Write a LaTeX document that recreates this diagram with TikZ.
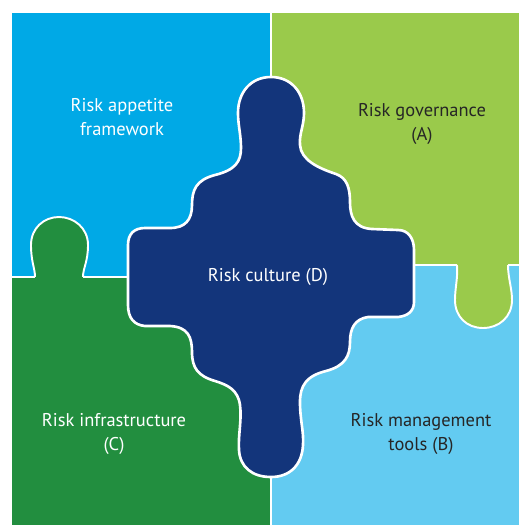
\documentclass[tikz,border=0pt]{standalone}
\usepackage{fontspec}
\setmainfont{PT Sans}
\definecolor{appetite}{HTML}{00A9E6}
\definecolor{governance}{HTML}{9ACA4B}
\definecolor{infra}{HTML}{228E3F}
\definecolor{tools}{HTML}{63CBF1}
\definecolor{culture}{HTML}{13357B}
\definecolor{ink}{HTML}{262626}
\tikzset{
	piece/.style={draw=white, line width=1.5pt},
	tab/.style={draw=white, line width=1.1pt},
	divider/.style={draw=white, line width=1.1pt},
	label/.style={align=center, inner sep=0pt, font=\fontsize{10.5}{13.6}\selectfont},
}
\begin{document}
\begin{tikzpicture}[x=0.02cm, y=-0.02cm]
	\useasboundingbox (0,0) rectangle (519,525);
	% quadrants
	\fill[appetite] (12,13) rectangle (271,277);
	\fill[governance] (271,13) rectangle (519,265);
	\fill[infra] (12,277) rectangle (271,525);
	\fill[tools] (271,265) rectangle (519,525);
	% dividers
	\draw[divider] (271,13) -- (271,525);
	\draw[divider] (12,277) -- (35,277);
	\draw[divider] (83,277) -- (130,277);
	\draw[divider] (412,265) -- (457,265);
	\draw[divider] (508,265) -- (519,265);
	% tabs
	\path[tab, fill=infra] (35,277) .. controls (35,268) and (31,262) .. (31,245)
		.. controls (31,228) and (44,217) .. (59,217)
		.. controls (74,217) and (88,228) .. (88,245)
		.. controls (88,262) and (83,268) .. (83,277);
	\path[tab, fill=governance] (457,265) .. controls (458,278) and (455,288) .. (455,300)
		.. controls (455,317) and (467,328) .. (483,328)
		.. controls (499,328) and (512,317) .. (512,300)
		.. controls (512,288) and (508,278) .. (508,265);
	% centre piece
	\path[piece, fill=culture] (271,77) .. controls (291,77) and (304,92) .. (304,113)
		.. controls (304,126) and (299,134) .. (300,145)
		.. controls (301,160) and (318,168) .. (336,174)
		.. controls (347,178) and (350,188) .. (350,202)
		.. controls (350,216) and (354,228) .. (372,229)
		-- (398,230)
		.. controls (408,230) and (414,238) .. (414,250)
		-- (414,302)
		.. controls (414,311) and (408,316) .. (398,317)
		-- (368,317)
		.. controls (355,319) and (350,328) .. (350,342)
		.. controls (350,356) and (345,366) .. (326,371)
		.. controls (306,376) and (300,386) .. (300,402)
		.. controls (300,420) and (304,432) .. (303,445)
		.. controls (302,465) and (290,477) .. (271,477)
		.. controls (252,477) and (240,467) .. (239,450)
		.. controls (238,435) and (242,420) .. (240,405)
		.. controls (238,390) and (228,385) .. (215,381)
		.. controls (198,376) and (192,368) .. (192,352)
		.. controls (192,337) and (188,327) .. (170,326)
		-- (145,326)
		.. controls (134,325) and (128,318) .. (128,305)
		-- (128,245)
		.. controls (128,234) and (134,228) .. (145,228)
		-- (170,228)
		.. controls (185,228) and (192,220) .. (192,205)
		.. controls (192,190) and (196,180) .. (215,175)
		.. controls (235,170) and (241,162) .. (241,148)
		.. controls (241,135) and (238,125) .. (238,113)
		.. controls (238,92) and (251,77) .. (271,77) -- cycle;
	% labels
	\node[label, white] (appetitetext) at (122,117) {Risk appetite\\framework};
	\node[label, ink] (governancetext) at (422,124) {Risk governance\\(A)};
	\node[label, white] (culturetext) at (268,277) {Risk culture (D)};
	\node[label, white] (infratext) at (114,434) {Risk infrastructure\\(C)};
	\node[label, ink] (toolstext) at (421,434) {Risk management\\tools (B)};
\end{tikzpicture}
\end{document}
